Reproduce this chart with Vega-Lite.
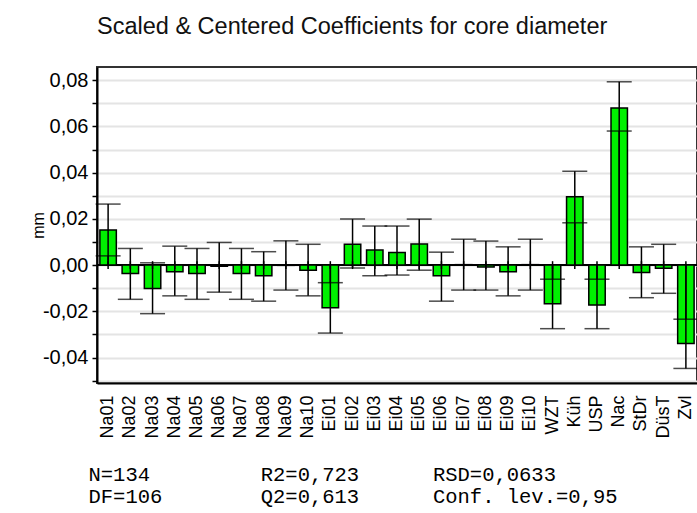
{
  "$schema": "https://vega.github.io/schema/vega-lite/v6.json",
  "width": 600,
  "height": 316,
  "autosize": {"type": "none"},
  "padding": {"left": 97, "top": 67, "right": 0, "bottom": 130},
  "background": "white",
  "config": {
    "view": {"stroke": "#333333", "strokeWidth": 2},
    "font": "Liberation Sans",
    "locale": {"number": {"decimal": ",", "thousands": ".", "grouping": [3], "currency": ["", " €"], "minus": "-"}}
  },
  "title": {
    "text": "Scaled & Centered Coefficients for core diameter",
    "anchor": "start",
    "frame": "group",
    "font": "Liberation Sans",
    "fontSize": 23.5,
    "fontWeight": "normal",
    "color": "#111111",
    "offset": 29
  },
  "data": {
    "values": [
      {"term": "Na01", "coef": 0.0152, "lo": 0.0040, "hi": 0.0264},
      {"term": "Na02", "coef": -0.0036, "lo": -0.0148, "hi": 0.0072},
      {"term": "Na03", "coef": -0.0101, "lo": -0.0210, "hi": 0.0010},
      {"term": "Na04", "coef": -0.0029, "lo": -0.0133, "hi": 0.0082},
      {"term": "Na05", "coef": -0.0036, "lo": -0.0148, "hi": 0.0072},
      {"term": "Na06", "coef": -0.0005, "lo": -0.0117, "hi": 0.0098},
      {"term": "Na07", "coef": -0.0036, "lo": -0.0148, "hi": 0.0072},
      {"term": "Na08", "coef": -0.0046, "lo": -0.0156, "hi": 0.0058},
      {"term": "Na09", "coef": -0.0001, "lo": -0.0108, "hi": 0.0105},
      {"term": "Na10", "coef": -0.0022, "lo": -0.0133, "hi": 0.0090},
      {"term": "Ei01", "coef": -0.0185, "lo": -0.0294, "hi": -0.0076},
      {"term": "Ei02", "coef": 0.0090, "lo": -0.0012, "hi": 0.0199},
      {"term": "Ei03", "coef": 0.0065, "lo": -0.0046, "hi": 0.0169},
      {"term": "Ei04", "coef": 0.0055, "lo": -0.0043, "hi": 0.0169},
      {"term": "Ei05", "coef": 0.0091, "lo": -0.0022, "hi": 0.0199},
      {"term": "Ei06", "coef": -0.0046, "lo": -0.0156, "hi": 0.0056},
      {"term": "Ei07", "coef": 0.0002, "lo": -0.0108, "hi": 0.0112},
      {"term": "Ei08", "coef": -0.0008, "lo": -0.0108, "hi": 0.0104},
      {"term": "Ei09", "coef": -0.0029, "lo": -0.0133, "hi": 0.0079},
      {"term": "Ei10", "coef": 0.0002, "lo": -0.0108, "hi": 0.0112},
      {"term": "WZT", "coef": -0.0167, "lo": -0.0275, "hi": -0.0061},
      {"term": "Küh", "coef": 0.0296, "lo": 0.0183, "hi": 0.0406},
      {"term": "USP", "coef": -0.0173, "lo": -0.0275, "hi": -0.0061},
      {"term": "Nac", "coef": 0.0680, "lo": 0.0580, "hi": 0.0793},
      {"term": "StDr", "coef": -0.0032, "lo": -0.0141, "hi": 0.0079},
      {"term": "DüsT", "coef": -0.0014, "lo": -0.0122, "hi": 0.0090},
      {"term": "Zvl", "coef": -0.0339, "lo": -0.0447, "hi": -0.0234}
    ]
  },
  "layer": [
    {
      "mark": {"type": "rule", "color": "black", "strokeWidth": 1},
      "encoding": {"y": {"datum": 0, "type": "quantitative"}}
    },
    {
      "mark": {"type": "bar", "fill": "#00f000", "stroke": "black", "strokeWidth": 1.5},
      "encoding": {
        "x": {
          "field": "term",
          "type": "nominal",
          "sort": null,
          "scale": {"paddingInner": 0.26, "paddingOuter": 0.13},
          "axis": {
            "title": [
              "N=134\u00a0\u00a0\u00a0\u00a0\u00a0\u00a0\u00a0\u00a0\u00a0R2=0,723\u00a0\u00a0\u00a0\u00a0\u00a0\u00a0RSD=0,0633",
              "DF=106\u00a0\u00a0\u00a0\u00a0\u00a0\u00a0\u00a0\u00a0Q2=0,613\u00a0\u00a0\u00a0\u00a0\u00a0\u00a0Conf. lev.=0,95"
            ],
            "labelAngle": -90,
            "labelAlign": "right",
            "labelBaseline": "middle",
            "labelFontSize": 18,
            "labelColor": "black",
            "labelPadding": 12,
            "labelOverlap": false,
            "ticks": false,
            "domainColor": "black",
            "domainWidth": 2,
            "titleFont": "Liberation Mono",
            "titleFontSize": 20.5,
            "titleFontWeight": "normal",
            "titleColor": "black",
            "titleAnchor": "start",
            "titleAlign": "left",
            "titleBaseline": "top",
            "titleX": -9,
            "titleY": 81,
            "titleLineHeight": 22
          }
        },
        "y": {
          "field": "coef",
          "type": "quantitative",
          "scale": {"domain": [-0.051, 0.0857], "nice": false, "zero": false},
          "axis": {
            "title": "mm",
            "values": [-0.05, -0.04, -0.03, -0.02, -0.01, 0, 0.01, 0.02, 0.03, 0.04, 0.05, 0.06, 0.07, 0.08],
            "tickCount": 40,
            "format": ".2f",
            "labelExpr": "abs(round(datum.value * 100)) % 2 == 1 ? '' : datum.label",
            "labelOverlap": false,
            "grid": true,
            "gridColor": "#e4e4e4",
            "gridWidth": 2,
            "domainColor": "black",
            "domainWidth": 2,
            "tickColor": "black",
            "tickWidth": 1.5,
            "tickSize": 5,
            "labelFontSize": 20,
            "labelColor": "black",
            "labelPadding": 4,
            "titleFontSize": 16,
            "titleFontWeight": "normal",
            "titleColor": "black",
            "titlePadding": -4
          }
        },
        "y2": {"datum": 0}
      }
    },
    {
      "mark": {"type": "rule", "color": "black", "strokeWidth": 1.5},
      "encoding": {
        "x": {"field": "term", "type": "nominal", "sort": null},
        "y": {"field": "lo", "type": "quantitative"},
        "y2": {"datum": 0}
      }
    },
    {
      "mark": {"type": "rule", "color": "black", "strokeWidth": 1.5},
      "encoding": {
        "x": {"field": "term", "type": "nominal", "sort": null},
        "y": {"field": "hi", "type": "quantitative"},
        "y2": {"datum": 0}
      }
    },
    {
      "mark": {"type": "rule", "color": "black", "strokeWidth": 1.5},
      "encoding": {
        "x": {"field": "term", "type": "nominal", "sort": null},
        "y": {"datum": -0.0017},
        "y2": {"datum": 0.0017}
      }
    },
    {
      "mark": {"type": "tick", "color": "black", "thickness": 1.5, "size": 25},
      "encoding": {
        "x": {"field": "term", "type": "nominal", "sort": null},
        "y": {"field": "lo", "type": "quantitative"}
      }
    },
    {
      "mark": {"type": "tick", "color": "black", "thickness": 1.5, "size": 25},
      "encoding": {
        "x": {"field": "term", "type": "nominal", "sort": null},
        "y": {"field": "hi", "type": "quantitative"}
      }
    }
  ]
}
